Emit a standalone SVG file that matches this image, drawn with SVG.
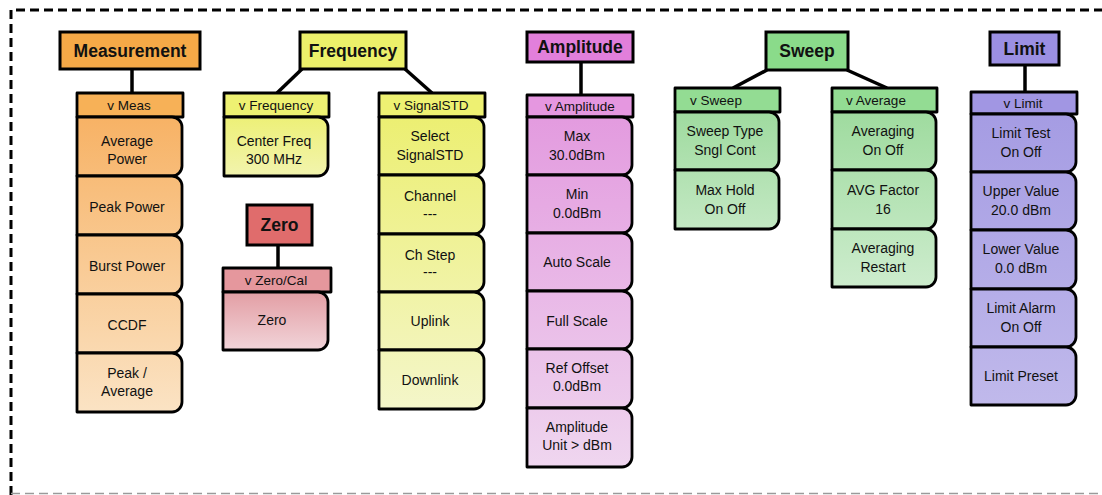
<svg xmlns="http://www.w3.org/2000/svg" width="1102" height="495" viewBox="0 0 1102 495">
<style>
.title{font-family:"Liberation Sans",Arial,sans-serif;font-weight:bold;font-size:17.5px;fill:#111;text-anchor:middle}
.sub{font-family:"Liberation Sans",Arial,sans-serif;font-size:13.5px;fill:#111;text-anchor:middle}
.btn{font-family:"Liberation Sans",Arial,sans-serif;font-size:14px;fill:#111;text-anchor:middle}
.box{stroke:#000;stroke-width:3}
.b{stroke:#000;stroke-width:2.8;stroke-linejoin:round}
.conn line{stroke:#000;stroke-width:3.5}
</style>
<defs>
<linearGradient id="gMeas" gradientUnits="userSpaceOnUse" x1="0" y1="117" x2="0" y2="412"><stop offset="0" stop-color="#F7B265"/><stop offset="1" stop-color="#FBE3C4"/></linearGradient>
<linearGradient id="gFreq" gradientUnits="userSpaceOnUse" x1="0" y1="117" x2="0" y2="176"><stop offset="0" stop-color="#EDF077"/><stop offset="1" stop-color="#F2F4AE"/></linearGradient>
<linearGradient id="gStd" gradientUnits="userSpaceOnUse" x1="0" y1="117" x2="0" y2="409"><stop offset="0" stop-color="#ECEF72"/><stop offset="1" stop-color="#F4F6CA"/></linearGradient>
<linearGradient id="gZero" gradientUnits="userSpaceOnUse" x1="0" y1="292" x2="0" y2="350"><stop offset="0" stop-color="#E39EA4"/><stop offset="1" stop-color="#F1D4D9"/></linearGradient>
<linearGradient id="gAmp" gradientUnits="userSpaceOnUse" x1="0" y1="117" x2="0" y2="467"><stop offset="0" stop-color="#E39BDF"/><stop offset="1" stop-color="#EFD6EF"/></linearGradient>
<linearGradient id="gSweep" gradientUnits="userSpaceOnUse" x1="0" y1="112" x2="0" y2="229"><stop offset="0" stop-color="#9FDB9F"/><stop offset="1" stop-color="#C3E8C3"/></linearGradient>
<linearGradient id="gAvg" gradientUnits="userSpaceOnUse" x1="0" y1="112" x2="0" y2="287"><stop offset="0" stop-color="#9FDB9F"/><stop offset="1" stop-color="#CDECCD"/></linearGradient>
<linearGradient id="gLim" gradientUnits="userSpaceOnUse" x1="0" y1="114" x2="0" y2="405"><stop offset="0" stop-color="#A59CE3"/><stop offset="1" stop-color="#C0B9EB"/></linearGradient>
</defs>
<rect width="1102" height="495" fill="#fff"/>
<g id="frame">
<path d="M11 495 V10 H1102" fill="none" stroke="#000" stroke-width="3" stroke-dasharray="9 5"/>
<line x1="11" y1="493.5" x2="1102" y2="493.5" stroke="#9a9a9a" stroke-width="1.5" stroke-dasharray="9 5"/>
</g>
<g id="connectors" class="conn">
<line x1="132" y1="69" x2="132" y2="93"/>
<line x1="302" y1="69" x2="277" y2="93"/>
<line x1="405" y1="69" x2="432" y2="93"/>
<line x1="278" y1="245" x2="278" y2="268"/>
<line x1="581" y1="62" x2="581" y2="95"/>
<line x1="767" y1="70" x2="733" y2="88"/>
<line x1="847" y1="70" x2="887" y2="88"/>
<line x1="1025" y1="65" x2="1025" y2="92"/>
</g>
<g id="measurement">
<rect class="box" x="60" y="32" width="140" height="37" fill="#F5A947"/>
<text class="title" x="130" y="57">Measurement</text>
<rect class="b" x="77" y="93" width="106" height="24" fill="#F7B157"/>
<text class="sub" x="129" y="110">v Meas</text>
<g fill="url(#gMeas)">
<path class="b" d="M77 117 H172 A10 10 0 0 1 182 127 V166 A10 10 0 0 1 172 176 H77 Z"/>
<path class="b" d="M77 176 H172 A10 10 0 0 1 182 186 V225 A10 10 0 0 1 172 235 H77 Z"/>
<path class="b" d="M77 235 H172 A10 10 0 0 1 182 245 V284 A10 10 0 0 1 172 294 H77 Z"/>
<path class="b" d="M77 294 H172 A10 10 0 0 1 182 304 V343 A10 10 0 0 1 172 353 H77 Z"/>
<path class="b" d="M77 353 H172 A10 10 0 0 1 182 363 V402 A10 10 0 0 1 172 412 H77 Z"/>
</g>
<text class="btn" x="127" y="146">Average</text>
<text class="btn" x="127" y="164">Power</text>
<text class="btn" x="127" y="212">Peak Power</text>
<text class="btn" x="127" y="271">Burst Power</text>
<text class="btn" x="127" y="330">CCDF</text>
<text class="btn" x="127" y="378">Peak /</text>
<text class="btn" x="127" y="396">Average</text>
</g>
<g id="frequency">
<rect class="box" x="300" y="32" width="106" height="37" fill="#ECF06A"/>
<text class="title" x="353" y="57">Frequency</text>
<rect class="b" x="224" y="93" width="105" height="24" fill="#EEF172"/>
<text class="sub" x="276" y="110">v Frequency</text>
<path class="b" fill="url(#gFreq)" d="M224 117 H318 A10 10 0 0 1 328 127 V166 A10 10 0 0 1 318 176 H224 Z"/>
<text class="btn" x="274" y="146">Center Freq</text>
<text class="btn" x="274" y="164">300 MHz</text>
</g>
<g id="signalstd">
<rect class="b" x="379" y="93" width="106" height="24" fill="#EEF172"/>
<text class="sub" x="431" y="110">v SignalSTD</text>
<g fill="url(#gStd)">
<path class="b" d="M379 117 H474 A10 10 0 0 1 484 127 V165 A10 10 0 0 1 474 175 H379 Z"/>
<path class="b" d="M379 175 H474 A10 10 0 0 1 484 185 V224 A10 10 0 0 1 474 234 H379 Z"/>
<path class="b" d="M379 234 H474 A10 10 0 0 1 484 244 V282 A10 10 0 0 1 474 292 H379 Z"/>
<path class="b" d="M379 292 H474 A10 10 0 0 1 484 302 V340 A10 10 0 0 1 474 350 H379 Z"/>
<path class="b" d="M379 350 H474 A10 10 0 0 1 484 360 V399 A10 10 0 0 1 474 409 H379 Z"/>
</g>
<text class="btn" x="430" y="141">Select</text>
<text class="btn" x="430" y="160">SignalSTD</text>
<text class="btn" x="430" y="201">Channel</text>
<text class="btn" x="430" y="219">---</text>
<text class="btn" x="430" y="260">Ch Step</text>
<text class="btn" x="430" y="277">---</text>
<text class="btn" x="430" y="326">Uplink</text>
<text class="btn" x="430" y="385">Downlink</text>
</g>
<g id="zero">
<rect class="box" x="247" y="205" width="65" height="40" fill="#E06C6C"/>
<text class="title" x="279.5" y="231">Zero</text>
<rect class="b" x="223" y="268" width="108" height="24" fill="#E5979D"/>
<text class="sub" x="276" y="285">v Zero/Cal</text>
<path class="b" fill="url(#gZero)" d="M223 292 H318 A10 10 0 0 1 328 302 V340 A10 10 0 0 1 318 350 H223 Z"/>
<text class="btn" x="272" y="325">Zero</text>
</g>
<g id="amplitude">
<rect class="box" x="527" y="32" width="106" height="30" fill="#E27FDB"/>
<text class="title" x="580" y="53">Amplitude</text>
<rect class="b" x="527" y="95" width="106" height="22" fill="#E597E0"/>
<text class="sub" x="580" y="111">v Amplitude</text>
<g fill="url(#gAmp)">
<path class="b" d="M527 117 H622 A10 10 0 0 1 632 127 V165 A10 10 0 0 1 622 175 H527 Z"/>
<path class="b" d="M527 175 H622 A10 10 0 0 1 632 185 V223 A10 10 0 0 1 622 233 H527 Z"/>
<path class="b" d="M527 233 H622 A10 10 0 0 1 632 243 V281 A10 10 0 0 1 622 291 H527 Z"/>
<path class="b" d="M527 291 H622 A10 10 0 0 1 632 301 V339 A10 10 0 0 1 622 349 H527 Z"/>
<path class="b" d="M527 349 H622 A10 10 0 0 1 632 359 V398 A10 10 0 0 1 622 408 H527 Z"/>
<path class="b" d="M527 408 H622 A10 10 0 0 1 632 418 V457 A10 10 0 0 1 622 467 H527 Z"/>
</g>
<text class="btn" x="577" y="141">Max</text>
<text class="btn" x="577" y="160">30.0dBm</text>
<text class="btn" x="577" y="199">Min</text>
<text class="btn" x="577" y="218">0.0dBm</text>
<text class="btn" x="577" y="267">Auto Scale</text>
<text class="btn" x="577" y="326">Full Scale</text>
<text class="btn" x="577" y="373">Ref Offset</text>
<text class="btn" x="577" y="391">0.0dBm</text>
<text class="btn" x="577" y="432">Amplitude</text>
<text class="btn" x="577" y="450">Unit &gt; dBm</text>
</g>
<g id="sweep">
<rect class="box" x="766" y="32" width="82" height="38" fill="#8ADB8A"/>
<text class="title" x="807" y="57">Sweep</text>
<rect class="b" x="675" y="88" width="105" height="24" fill="#93DC93"/>
<text class="sub" x="716" y="105">v Sweep</text>
<g fill="url(#gSweep)">
<path class="b" d="M675 112 H769 A10 10 0 0 1 779 122 V160 A10 10 0 0 1 769 170 H675 Z"/>
<path class="b" d="M675 170 H769 A10 10 0 0 1 779 180 V219 A10 10 0 0 1 769 229 H675 Z"/>
</g>
<text class="btn" x="725" y="136">Sweep Type</text>
<text class="btn" x="725" y="155">Sngl  Cont</text>
<text class="btn" x="725" y="195">Max Hold</text>
<text class="btn" x="725" y="214">On  Off</text>
</g>
<g id="average">
<rect class="b" x="832" y="88" width="105" height="24" fill="#93DC93"/>
<text class="sub" x="876" y="105">v Average</text>
<g fill="url(#gAvg)">
<path class="b" d="M832 112 H926 A10 10 0 0 1 936 122 V160 A10 10 0 0 1 926 170 H832 Z"/>
<path class="b" d="M832 170 H926 A10 10 0 0 1 936 180 V219 A10 10 0 0 1 926 229 H832 Z"/>
<path class="b" d="M832 229 H926 A10 10 0 0 1 936 239 V277 A10 10 0 0 1 926 287 H832 Z"/>
</g>
<text class="btn" x="883" y="136">Averaging</text>
<text class="btn" x="883" y="155">On  Off</text>
<text class="btn" x="883" y="195">AVG Factor</text>
<text class="btn" x="883" y="214">16</text>
<text class="btn" x="883" y="253">Averaging</text>
<text class="btn" x="883" y="272">Restart</text>
</g>
<g id="limit">
<rect class="box" x="990" y="32" width="69" height="33" fill="#9B8FE2"/>
<text class="title" x="1024.5" y="55">Limit</text>
<rect class="b" x="971" y="92" width="106" height="22" fill="#A196E3"/>
<text class="sub" x="1023" y="108">v Limit</text>
<g fill="url(#gLim)">
<path class="b" d="M971 114 H1066 A10 10 0 0 1 1076 124 V162 A10 10 0 0 1 1066 172 H971 Z"/>
<path class="b" d="M971 172 H1066 A10 10 0 0 1 1076 182 V220 A10 10 0 0 1 1066 230 H971 Z"/>
<path class="b" d="M971 230 H1066 A10 10 0 0 1 1076 240 V279 A10 10 0 0 1 1066 289 H971 Z"/>
<path class="b" d="M971 289 H1066 A10 10 0 0 1 1076 299 V337 A10 10 0 0 1 1066 347 H971 Z"/>
<path class="b" d="M971 347 H1066 A10 10 0 0 1 1076 357 V395 A10 10 0 0 1 1066 405 H971 Z"/>
</g>
<text class="btn" x="1021" y="138">Limit Test</text>
<text class="btn" x="1021" y="157">On  Off</text>
<text class="btn" x="1021" y="196">Upper Value</text>
<text class="btn" x="1021" y="215">20.0 dBm</text>
<text class="btn" x="1021" y="254">Lower Value</text>
<text class="btn" x="1021" y="273">0.0 dBm</text>
<text class="btn" x="1021" y="313">Limit Alarm</text>
<text class="btn" x="1021" y="332">On  Off</text>
<text class="btn" x="1021" y="381">Limit Preset</text>
</g>
</svg>
